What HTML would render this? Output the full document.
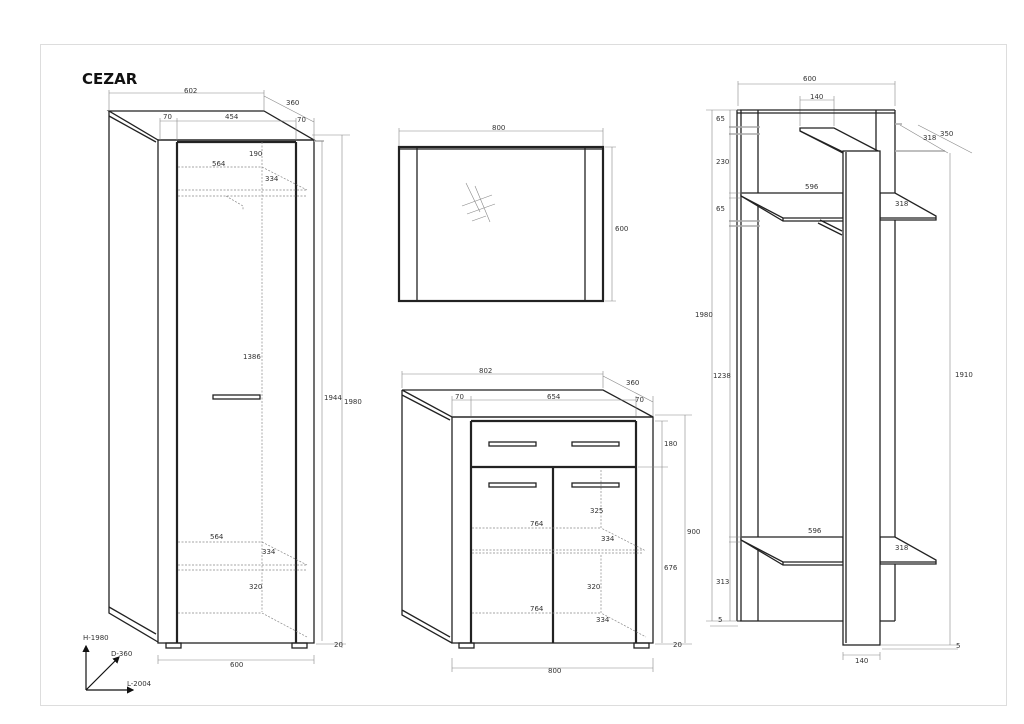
<!DOCTYPE html>
<html><head><meta charset="utf-8"><style>
html,body{margin:0;padding:0;background:#fff;width:1024px;height:724px;overflow:hidden}
svg{display:block}
text{font-family:"DejaVu Sans","Liberation Sans",sans-serif;font-size:7px;fill:#333}
.k{stroke:#222;stroke-width:1.3;fill:none}
.kf{stroke:#222;stroke-width:1.3;fill:#fff}
.t{stroke:#222;stroke-width:2.2;fill:none}
.d{stroke:#888;stroke-width:0.6;fill:none}
.g{stroke:#aaa;stroke-width:1.5;fill:none}
.ds{stroke:#888;stroke-width:0.7;stroke-dasharray:2,1.5;fill:none}
</style></head><body>
<svg width="1024" height="724" viewBox="0 0 1024 724">
<defs><marker id="ar" markerWidth="6" markerHeight="6" refX="5" refY="3" orient="auto"><path d="M0,0L6,3L0,6z" fill="#111"/></marker></defs>
<rect x="40.5" y="44.5" width="966" height="661" fill="none" stroke="#ddd"/>
<text x="82" y="84" style="font-size:15px;font-weight:bold;fill:#111;font-family:'DejaVu Sans',sans-serif">CEZAR</text>

<!-- WARDROBE -->
<path class="k" d="M109,111 L264,111 L314,140 L158,140 Z"/>
<path class="k" d="M109,116 L156,142"/>
<path class="k" d="M109,111 L109,613 L158,642"/>
<path class="k" d="M109,607 L156,634"/>
<rect class="k" x="158" y="140" width="156" height="503"/>
<path class="t" d="M177,142 L177,643 M296,142 L296,643 M177,142 L296,142"/>
<rect class="k" x="166" y="643" width="15" height="5"/>
<rect class="k" x="292" y="643" width="15" height="5"/>
<rect class="k" x="213" y="395" width="47" height="4"/>
<path class="ds" d="M262,142 L262,612 M178,167 L262,167 L307,190 M178,190 L307,190 M178,196 L307,196 M226,196 L243,206 L243,210 M178,542 L262,542 L307,565 M178,565 L307,565 M178,570 L307,570 M178,613 L262,613 L307,637"/>
<text x="249" y="156">190</text><text x="212" y="166">564</text><text x="265" y="181">334</text>
<text x="243" y="359">1386</text><text x="210" y="539">564</text><text x="262" y="554">334</text><text x="249" y="589">320</text>
<path class="d" d="M109,93 L264,93 M109,90 L109,110 M264,90 L264,110 M264,96 L314,122 M160,121 L296,121 M160,118 L160,140 M177,118 L177,140 M296,118 L296,140 M314,118 L314,140"/>
<text x="184" y="93">602</text><text x="286" y="105">360</text><text x="163" y="119">70</text><text x="225" y="119">454</text><text x="297" y="122">70</text>
<path class="g" d="M314,141 L324,141"/>
<path class="d" d="M322,141 L322,641 M342,135 L342,648 M312,135 L350,135 M316,644 L346,644 M158,655 L158,664 M314,655 L314,664 M158,660 L314,660"/>
<text x="324" y="400">1944</text><text x="344" y="404">1980</text><text x="334" y="647">20</text><text x="230" y="667">600</text>

<!-- axes -->
<path stroke="#111" stroke-width="1.2" fill="none" marker-end="url(#ar)" d="M86,690 L86,646"/>
<path stroke="#111" stroke-width="1.2" fill="none" marker-end="url(#ar)" d="M86,690 L119,657"/>
<path stroke="#111" stroke-width="1.2" fill="none" marker-end="url(#ar)" d="M86,690 L133,690"/>
<text x="83" y="640">H-1980</text><text x="111" y="656">D-360</text><text x="127" y="686">L-2004</text>

<!-- MIRROR -->
<path class="d" d="M399,131 L603,131 M399,128 L399,146 M603,128 L603,146 M605,147 L616,147 M605,301 L616,301 M612,147 L612,301"/>
<text x="492" y="130">800</text><text x="615" y="231">600</text>
<rect class="t" x="399" y="147" width="204" height="154"/>
<path class="k" d="M417,147 L417,301 M585,147 L585,301 M399,149 L603,149"/>
<path class="d" d="M466,183 L480,212 M475,186 L490,222 M462,206 L492,195 M467,214 L495,204 M472,221 L486,216"/>

<!-- COMMODE -->
<path class="k" d="M402,390 L603,390 L653,417 L452,417 Z"/>
<path class="k" d="M402,390 L402,615 L452,643 M402,395 L450,420 M402,610 L450,637"/>
<rect class="k" x="452" y="417" width="201" height="226"/>
<path class="t" d="M471,421 L471,643 M636,421 L636,643 M471,421 L636,421 M471,467 L636,467 M553,468 L553,643"/>
<rect class="k" x="489" y="442" width="47" height="4"/><rect class="k" x="572" y="442" width="47" height="4"/>
<rect class="k" x="489" y="483" width="47" height="4"/><rect class="k" x="572" y="483" width="47" height="4"/>
<rect class="k" x="459" y="643" width="15" height="5"/><rect class="k" x="634" y="643" width="15" height="5"/>
<path class="ds" d="M601,470 L601,528 L646,551 M472,528 L601,528 M472,550 L643,550 M472,553 L643,553 M601,555 L601,613 L646,637 M472,613 L601,613"/>
<text x="590" y="513">325</text><text x="530" y="526">764</text><text x="601" y="541">334</text>
<text x="587" y="589">320</text><text x="530" y="611">764</text><text x="596" y="622">334</text>
<path class="d" d="M402,374 L603,374 M402,371 L402,388 M603,371 L603,388 M603,376 L653,402 M452,400 L636,400 M452,396 L452,416 M471,396 L471,416 M636,396 L636,416 M653,396 L653,416"/>
<text x="479" y="373">802</text><text x="626" y="385">360</text><text x="455" y="399">70</text><text x="547" y="399">654</text><text x="635" y="402">70</text>
<path class="d" d="M655,415 L692,415 M655,421 L668,421 M638,467 L668,467 M662,421 L662,643 M685,415 L685,643 M655,644 L692,644 M452,658 L452,672 M653,658 L653,672 M452,668 L653,668"/>
<text x="664" y="446">180</text><text x="687" y="534">900</text><text x="664" y="570">676</text><text x="673" y="647">20</text><text x="548" y="673">800</text>

<!-- HALLSTAND -->
<path class="d" d="M738,84 L895,84 M738,81 L738,106 M895,81 L895,106 M800,100 L834,100 M800,96 L800,126 M834,96 L834,126"/>
<text x="803" y="81">600</text><text x="810" y="99">140</text>
<path class="k" d="M737,110 L895,110 M737,113 L895,113"/>
<path class="k" d="M737,110 L737,621 M741,110 L741,621 M758,110 L758,621 M737,621 L843,621 M880,621 L895,621 M876,110 L876,621 M895,110 L895,621"/>
<!-- top small shelf -->
<path class="kf" d="M800,128 L834,128 L880,152 L843,152 L800,131 Z"/>
<path class="k" d="M800,131 L843,153"/>
<!-- shelf 1 -->
<path class="kf" d="M741,193 L843,193 L843,218 L783,218 L741,196 Z"/>
<path class="k" d="M741,196 L783,221 L843,221 M783,218 L783,221"/>
<path class="kf" d="M880,193 L895,193 L936,216 L936,220 L880,220 Z"/>
<path class="k" d="M880,218 L936,218"/>
<path class="k" d="M820,220 L842,231 M818,223 L842,235"/>
<!-- bottom shelf -->
<path class="kf" d="M741,537 L843,537 L843,562 L783,562 L741,540 Z"/>
<path class="k" d="M741,540 L783,565 L843,565 M783,562 L783,565"/>
<path class="kf" d="M880,537 L895,537 L936,560 L936,564 L880,564 Z"/>
<path class="k" d="M880,562 L936,562"/>
<!-- front panel -->
<rect class="kf" x="843" y="151" width="37" height="494"/>
<path class="k" d="M846,152 L846,643"/>
<!-- hall dims -->
<path class="g" d="M729,127 L760,127 M729,134 L760,134 M729,221 L760,221 M729,226 L760,226"/>
<path class="d" d="M712,110 L712,621 M730,110 L730,621 M706,110 L740,110 M729,193 L742,193 M729,198 L742,198 M729,537 L742,537 M729,542 L742,542 M706,621 L740,621 M710,626 L738,626"/>
<text x="716" y="121">65</text><text x="716" y="164">230</text><text x="716" y="211">65</text><text x="695" y="317">1980</text><text x="713" y="378">1238</text><text x="716" y="584">313</text><text x="718" y="622">5</text>
<path class="g" d="M895,124 L902,124 M895,151 L945,151"/>
<path class="d" d="M900,125 L948,153 M918,125 L972,153 M950,153 L950,645 M880,645 L958,645 M882,649 L958,649"/>
<text x="923" y="140">318</text><text x="940" y="136">350</text><text x="955" y="377">1910</text><text x="956" y="648">5</text>
<path class="d" d="M843,652 L843,660 M880,652 L880,660 M843,655 L880,655"/>
<text x="855" y="663">140</text>
<text x="805" y="189">596</text><text x="895" y="206">318</text>
<text x="808" y="533">596</text><text x="895" y="550">318</text>
</svg>
</body></html>
